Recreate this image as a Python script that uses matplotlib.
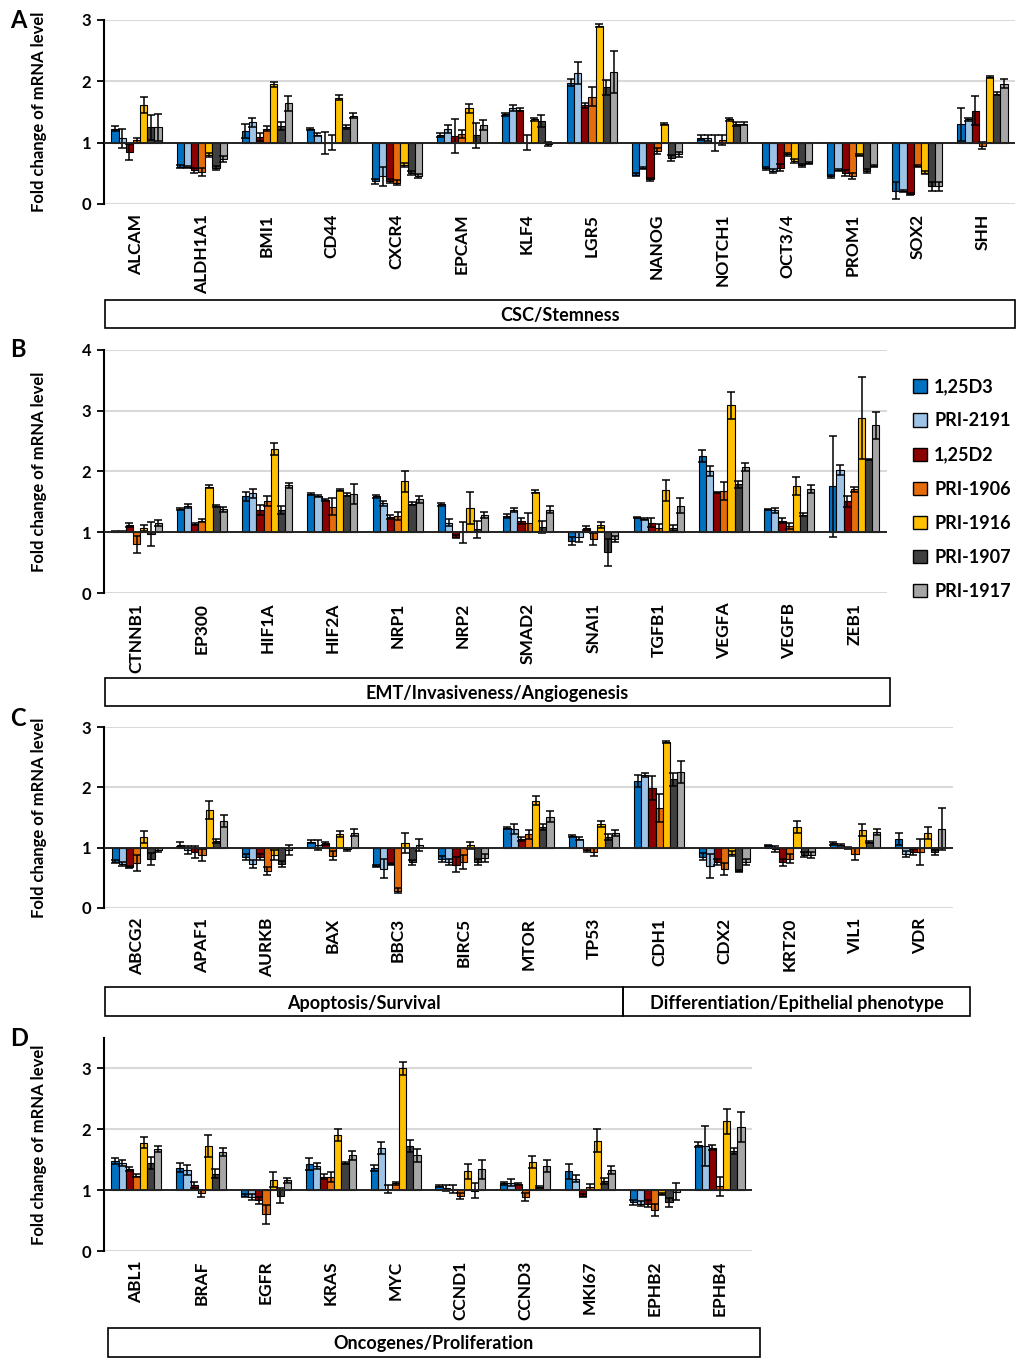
import matplotlib
matplotlib.use("Agg")
import matplotlib.pyplot as plt
import numpy as np
from matplotlib.patches import Rectangle, Patch

plt.rcParams['font.family'] = ['Lato', 'DejaVu Sans']
plt.rcParams['font.weight'] = 'bold'

series = ["1,25D3", "PRI-2191", "1,25D2", "PRI-1906", "PRI-1916", "PRI-1907", "PRI-1917"]
colors = ["#0070C0", "#9DC3E6", "#8B0000", "#E46C0A", "#FFC000", "#404040", "#A6A6A6"]

# ---------------- Panel A ----------------
genes_A = ["ALCAM", "ALDH1A1", "BMI1", "CD44", "CXCR4", "EPCAM", "KLF4", "LGR5",
           "NANOG", "NOTCH1", "OCT3/4", "PROM1", "SOX2", "SHH"]
vals_A = [
    [1.23, 1.07, 0.85, 1.04, 1.61, 1.25, 1.25],
    [0.61, 0.60, 0.55, 0.52, 0.80, 0.59, 0.73],
    [1.19, 1.33, 1.09, 1.23, 1.95, 1.27, 1.64],
    [1.22, 1.13, 1.00, 1.00, 1.73, 1.25, 1.44],
    [0.37, 0.45, 0.37, 0.35, 0.64, 0.51, 0.46],
    [1.13, 1.22, 1.11, 1.14, 1.56, 1.12, 1.29],
    [1.46, 1.57, 1.54, 1.00, 1.38, 1.35, 0.98],
    [1.98, 2.13, 1.61, 1.75, 2.91, 1.90, 2.15],
    [0.48, 0.59, 0.40, 0.86, 1.30, 0.75, 0.81],
    [1.08, 1.07, 1.00, 1.05, 1.38, 1.30, 1.31],
    [0.58, 0.54, 0.59, 0.81, 0.70, 0.63, 0.67],
    [0.45, 0.55, 0.51, 0.45, 0.80, 0.54, 0.62],
    [0.22, 0.21, 0.16, 0.62, 0.51, 0.29, 0.29],
    [1.30, 1.38, 1.52, 0.95, 2.07, 1.80, 1.96],
]
errs_A = [
    [0.04, 0.15, 0.13, 0.04, 0.13, 0.20, 0.22],
    [0.02, 0.02, 0.04, 0.06, 0.03, 0.03, 0.05],
    [0.12, 0.08, 0.07, 0.04, 0.04, 0.07, 0.12],
    [0.02, 0.02, 0.18, 0.12, 0.04, 0.03, 0.04],
    [0.04, 0.15, 0.03, 0.04, 0.03, 0.03, 0.03],
    [0.03, 0.06, 0.28, 0.07, 0.07, 0.20, 0.08],
    [0.03, 0.05, 0.02, 0.12, 0.03, 0.10, 0.03],
    [0.06, 0.18, 0.04, 0.15, 0.02, 0.12, 0.34],
    [0.02, 0.02, 0.02, 0.05, 0.02, 0.05, 0.04],
    [0.04, 0.05, 0.13, 0.08, 0.02, 0.03, 0.02],
    [0.02, 0.03, 0.06, 0.02, 0.03, 0.03, 0.02],
    [0.02, 0.02, 0.05, 0.05, 0.02, 0.03, 0.02],
    [0.14, 0.02, 0.02, 0.02, 0.02, 0.07, 0.07],
    [0.27, 0.02, 0.24, 0.06, 0.02, 0.03, 0.07],
]

# ---------------- Panel B ----------------
genes_B = ["CTNNB1", "EP300", "HIF1A", "HIF2A", "NRP1", "NRP2", "SMAD2", "SNAI1",
           "TGFB1", "VEGFA", "VEGFB", "ZEB1"]
vals_B = [
    [1.01, 1.01, 1.12, 0.80, 1.07, 0.97, 1.15],
    [1.38, 1.43, 1.14, 1.19, 1.75, 1.43, 1.38],
    [1.59, 1.64, 1.37, 1.51, 2.37, 1.37, 1.77],
    [1.63, 1.60, 1.53, 1.42, 1.70, 1.62, 1.63],
    [1.59, 1.48, 1.25, 1.27, 1.84, 1.47, 1.54],
    [1.46, 1.16, 0.93, 1.00, 1.40, 1.05, 1.29],
    [1.27, 1.37, 1.19, 1.16, 1.67, 1.09, 1.37],
    [0.86, 0.92, 1.07, 0.89, 1.12, 0.67, 0.89],
    [1.24, 1.22, 1.16, 1.07, 1.69, 1.07, 1.44],
    [2.25, 2.01, 1.66, 1.68, 3.09, 1.79, 2.07],
    [1.38, 1.36, 1.19, 1.11, 1.76, 1.29, 1.71],
    [1.76, 2.03, 1.51, 1.71, 2.88, 2.20, 2.76],
]
errs_B = [
    [0.01, 0.01, 0.03, 0.14, 0.05, 0.20, 0.05],
    [0.02, 0.03, 0.02, 0.02, 0.02, 0.02, 0.04],
    [0.08, 0.07, 0.08, 0.08, 0.10, 0.07, 0.04],
    [0.02, 0.02, 0.02, 0.14, 0.02, 0.02, 0.17],
    [0.02, 0.04, 0.03, 0.07, 0.17, 0.02, 0.06],
    [0.02, 0.06, 0.02, 0.17, 0.27, 0.14, 0.05],
    [0.03, 0.03, 0.05, 0.16, 0.02, 0.10, 0.06],
    [0.07, 0.08, 0.04, 0.10, 0.05, 0.22, 0.05],
    [0.01, 0.02, 0.07, 0.07, 0.17, 0.05, 0.13],
    [0.10, 0.08, 0.01, 0.15, 0.22, 0.06, 0.07],
    [0.01, 0.04, 0.04, 0.05, 0.15, 0.02, 0.07],
    [0.83, 0.08, 0.09, 0.04, 0.67, 0.01, 0.22],
]

# ---------------- Panel C ----------------
genes_C = ["ABCG2", "APAF1", "AURKB", "BAX", "BBC3", "BIRC5", "MTOR", "TP53",
           "CDH1", "CDX2", "KRT20", "VIL1", "VDR"]
vals_C = [
    [0.77, 0.73, 0.68, 0.75, 1.18, 0.81, 0.96],
    [1.05, 0.96, 0.93, 0.88, 1.62, 1.11, 1.44],
    [0.85, 0.73, 0.85, 0.61, 0.88, 0.73, 0.96],
    [1.10, 1.04, 1.07, 0.87, 1.22, 0.97, 1.25],
    [0.70, 0.65, 0.73, 0.29, 1.08, 0.76, 1.04],
    [0.81, 0.76, 0.72, 0.76, 1.04, 0.76, 0.83],
    [1.33, 1.31, 1.14, 1.22, 1.78, 1.34, 1.51],
    [1.19, 1.15, 0.96, 0.93, 1.40, 1.17, 1.25],
    [2.10, 2.20, 1.99, 1.66, 2.75, 2.13, 2.25],
    [0.85, 0.70, 0.76, 0.65, 0.90, 0.61, 0.76],
    [1.04, 0.98, 0.76, 0.82, 1.34, 0.88, 0.88],
    [1.07, 1.04, 0.99, 0.90, 1.29, 1.09, 1.26],
    [1.15, 0.90, 0.93, 0.93, 1.25, 0.92, 1.31],
]
errs_C = [
    [0.02, 0.04, 0.02, 0.13, 0.10, 0.10, 0.04],
    [0.04, 0.06, 0.10, 0.10, 0.15, 0.03, 0.10],
    [0.05, 0.06, 0.05, 0.07, 0.08, 0.05, 0.08],
    [0.03, 0.08, 0.03, 0.08, 0.05, 0.02, 0.06],
    [0.02, 0.16, 0.02, 0.04, 0.17, 0.04, 0.10],
    [0.05, 0.05, 0.12, 0.12, 0.06, 0.05, 0.07],
    [0.02, 0.08, 0.03, 0.08, 0.08, 0.05, 0.09],
    [0.02, 0.03, 0.03, 0.06, 0.05, 0.05, 0.05],
    [0.10, 0.03, 0.20, 0.23, 0.02, 0.10, 0.18],
    [0.06, 0.20, 0.05, 0.10, 0.04, 0.02, 0.05],
    [0.01, 0.05, 0.06, 0.07, 0.10, 0.04, 0.05],
    [0.02, 0.02, 0.02, 0.10, 0.10, 0.02, 0.05],
    [0.10, 0.05, 0.05, 0.22, 0.10, 0.04, 0.35],
]

# ---------------- Panel D ----------------
genes_D = ["ABL1", "BRAF", "EGFR", "KRAS", "MYC", "CCND1", "CCND3", "MKI67", "EPHB2", "EPHB4"]
vals_D = [
    [1.48, 1.45, 1.35, 1.24, 1.78, 1.45, 1.68],
    [1.37, 1.33, 1.09, 0.95, 1.73, 1.27, 1.63],
    [0.91, 0.89, 0.83, 0.60, 1.17, 0.91, 1.16],
    [1.43, 1.39, 1.22, 1.22, 1.91, 1.45, 1.57],
    [1.37, 1.69, 1.02, 1.11, 3.00, 1.73, 1.57],
    [1.07, 1.04, 1.02, 0.91, 1.31, 0.99, 1.34],
    [1.11, 1.12, 1.10, 0.89, 1.46, 1.05, 1.39],
    [1.31, 1.19, 0.91, 1.05, 1.81, 1.15, 1.33],
    [0.80, 0.78, 0.78, 0.67, 0.94, 0.80, 0.97],
    [1.75, 1.72, 1.70, 1.06, 2.13, 1.65, 2.04],
]
errs_D = [
    [0.05, 0.05, 0.03, 0.03, 0.09, 0.10, 0.05],
    [0.07, 0.08, 0.05, 0.06, 0.18, 0.07, 0.07],
    [0.03, 0.05, 0.05, 0.15, 0.12, 0.12, 0.04],
    [0.10, 0.05, 0.04, 0.08, 0.10, 0.02, 0.08],
    [0.05, 0.10, 0.06, 0.02, 0.10, 0.10, 0.10],
    [0.02, 0.05, 0.06, 0.05, 0.12, 0.12, 0.15],
    [0.02, 0.06, 0.02, 0.07, 0.10, 0.01, 0.10],
    [0.12, 0.06, 0.03, 0.05, 0.19, 0.05, 0.07],
    [0.04, 0.04, 0.06, 0.10, 0.02, 0.07, 0.14],
    [0.04, 0.33, 0.04, 0.15, 0.20, 0.05, 0.25],
]

W, H = 1024, 1368
fig = plt.figure(figsize=(W / 100, H / 100), dpi=100)


def px_axes(x0, x1, ytop, ybot):
    return fig.add_axes([x0 / W, 1 - ybot / H, (x1 - x0) / W, (ybot - ytop) / H])


def draw_panel(ax, genes, vals, errs, ymax, yticks):
    n = len(genes)
    x = np.arange(n)
    v = np.array(vals)
    e = np.array(errs)
    bw = 0.11
    for i in range(7):
        xs = x + (i - 3) * bw
        ax.bar(xs, v[:, i] - 1, bottom=1, width=bw, color=colors[i],
               edgecolor='black', linewidth=0.8, zorder=3)
        ax.errorbar(xs, v[:, i], yerr=e[:, i], fmt='none', ecolor='black',
                    elinewidth=1.1, capsize=3, capthick=1.1, zorder=4)
    ax.set_xlim(-0.5, n - 0.5)
    ax.set_ylim(0, ymax)
    ax.set_yticks(yticks)
    ax.set_yticklabels([str(t) for t in yticks], fontsize=12, fontweight='bold')
    for t in yticks:
        if t != 1:
            ax.axhline(t, color='#D9D9D9', lw=1.5, zorder=1)
    ax.axhline(1, color='#222222', lw=1.4, zorder=5)
    ax.set_xticks(x)
    ax.set_xticklabels(genes, rotation=90, fontsize=12.5, fontweight='bold')
    ax.tick_params(axis='x', length=0, pad=7)
    ax.tick_params(axis='y', length=5, width=1.3, direction='out', pad=4)
    for s in ['top', 'right', 'bottom']:
        ax.spines[s].set_visible(False)
    ax.spines['left'].set_linewidth(1.5)
    ax.set_ylabel("Fold change of mRNA level", fontsize=12, fontweight='bold', labelpad=8)


axA = px_axes(104, 1015, 20, 204)
draw_panel(axA, genes_A, vals_A, errs_A, 3, [0, 1, 2, 3])
axB = px_axes(104, 887, 350, 593)
draw_panel(axB, genes_B, vals_B, errs_B, 4, [0, 1, 2, 3, 4])
axC = px_axes(104, 953, 727, 908)
draw_panel(axC, genes_C, vals_C, errs_C, 3, [0, 1, 2, 3])
axD = px_axes(104, 752, 1038, 1251)
draw_panel(axD, genes_D, vals_D, errs_D, 3.5, [0, 1, 2, 3])

# align y labels
for ax in [axA, axB, axC, axD]:
    ax.yaxis.set_label_coords(-(104 - 47) / ((ax.get_position().width) * W), 0.5)


def box(x0, x1, ytop, ybot, label):
    r = Rectangle((x0 / W, 1 - ybot / H), (x1 - x0) / W, (ybot - ytop) / H,
                  transform=fig.transFigure, fill=False, edgecolor='black', lw=1.2)
    fig.add_artist(r)
    fig.text((x0 + x1) / 2 / W, 1 - (ytop + ybot + 3) / 2 / H, label, ha='center', va='center',
             fontsize=13, fontweight='bold')


box(105, 1015, 300, 328, "CSC/Stemness")
box(105, 890, 678, 706, "EMT/Invasiveness/Angiogenesis")
box(105, 623, 987, 1016, "Apoptosis/Survival")
box(623, 970, 987, 1016, "Differentiation/Epithelial phenotype")
box(108, 760, 1328, 1357, "Oncogenes/Proliferation")

for lab, y in [("A", 20), ("B", 350), ("C", 718), ("D", 1038)]:
    fig.text(10 / W, 1 - y / H, lab, ha='left', va='center', fontsize=17, fontweight='bold')

handles = [Patch(facecolor=c, edgecolor='black', linewidth=1.0, label=s) for c, s in zip(colors, series)]
fig.legend(handles=handles, loc='upper left', bbox_to_anchor=(897 / W, 1 - 362 / H),
           frameon=False, handlelength=0.75, handleheight=0.75,
           handletextpad=0.4, labelspacing=0.95, prop={'weight': 'bold', 'size': 13})

fig.savefig("out.png", dpi=100)
